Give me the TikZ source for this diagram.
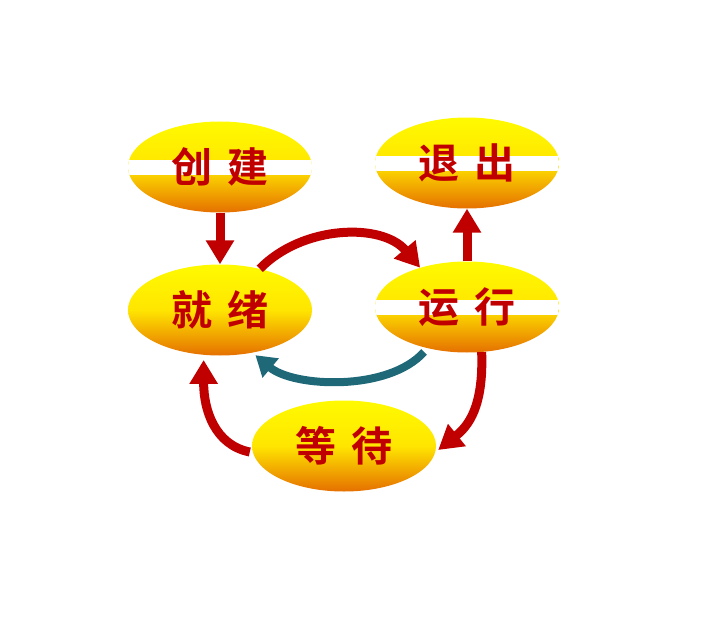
\documentclass[tikz,border=0pt]{standalone}
\usepackage{fontspec}
\newfontfamily\cjk{Noto Sans CJK SC}[BoldFont={Noto Sans CJK SC Bold}]
\usetikzlibrary{arrows.meta,shapes.geometric,calc}
\definecolor{txtred}{HTML}{C00000}
\definecolor{arrred}{HTML}{C00000}
\definecolor{teal2}{HTML}{1E6878}
\definecolor{topY}{HTML}{FFFA00}
\definecolor{botO}{HTML}{E57000}
\tikzset{
  state/.style={ellipse, minimum width=184pt, minimum height=91pt, inner sep=0pt,
    top color=topY, bottom color=botO, middle color=yellow!80!orange,
    font=\cjk\bfseries\fontsize{41}{41}\selectfont, text=txtred},
  band/.style={path picture={\fill[white]
    ($(path picture bounding box.west)+(0,-7)$) rectangle
    ($(path picture bounding box.east)+(0,8)$);}},
  redarr/.style={draw=arrred, line width=9pt, -{Triangle[width=27pt,length=24pt]}},
  tealarr/.style={draw=teal2, line width=8pt, -{Triangle[width=24pt,length=20pt]}},
}
\begin{document}
\begin{tikzpicture}[x=1pt,y=-1pt]
\useasboundingbox (0,0) rectangle (708,636);
\node[state,band] (cj) at (220,167) {创\hspace{16pt}建};
\node[state,band] (tc) at (467,163) {退\hspace{16pt}出};
\node[state] (jx) at (220,310) {就\hspace{16pt}绪};
\node[state,band] (yx) at (467,307) {运\hspace{16pt}行};
\node[state] (dd) at (344,446) {等\hspace{16pt}待};
\draw[redarr] (cj.south) -- (jx.north);
\draw[redarr] (yx.north) -- (tc.south);
\draw[redarr] (jx.46) .. controls +(43,-44) and +(-38,-45) .. (yx.140);
\draw[tealarr] ($(yx.-135)+(-2,4)$) .. controls +(-36,40) and +(38,32) .. ($(jx.-50)+(0,3)$);
\draw[redarr] (yx.-72) .. controls +(2,55) and +(30,-24) .. ($(dd.east)+(2,4)$);
\draw[redarr] ($(dd.west)+(-2,6)$) .. controls +(-35,-7) and +(0,50) .. ($(jx.-110)+(0,5)$);
\end{tikzpicture}
\end{document}
